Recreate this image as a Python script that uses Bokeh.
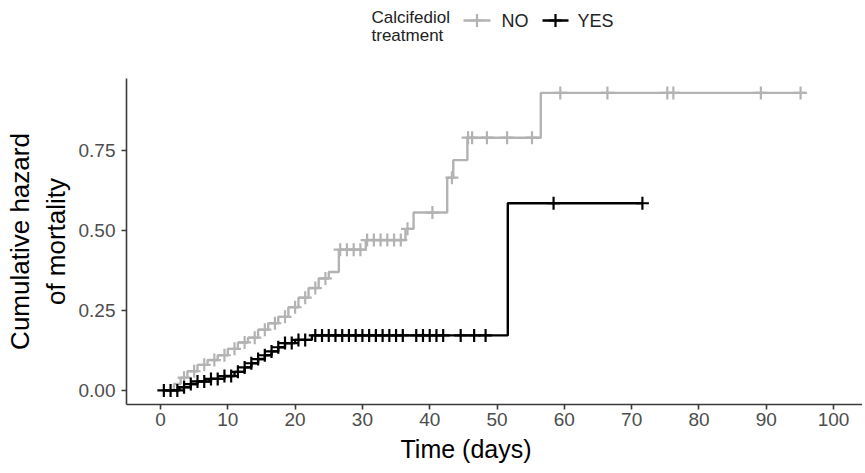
import numpy as np
from bokeh.plotting import figure
from bokeh.layouts import column
from bokeh.models import Range1d, FixedTicker, NumeralTickFormatter, Title
from bokeh.core.properties import value
from bokeh.embed import file_html
from bokeh.resources import INLINE

# ---------------- data ----------------
no_times = [0.3, 2.0, 3.0, 4.0, 5.5, 7.0, 8.5, 10.0, 11.5, 13.0, 14.5, 16.0, 17.5,
            19.0, 20.5, 22.0, 23.5, 25.0, 26.5, 30.5, 36.4, 37.6, 42.6, 43.5, 45.6, 56.5]
no_haz = [0.0, 0.02, 0.04, 0.06, 0.08, 0.095, 0.11, 0.13, 0.15, 0.165, 0.19, 0.21, 0.23,
          0.26, 0.29, 0.32, 0.35, 0.37, 0.44, 0.47, 0.505, 0.556, 0.665, 0.72, 0.79, 0.93]
no_end = 95.8
no_censor = [3.5, 5.0, 6.5, 8.0, 9.5, 11.0, 12.5, 14.0, 15.5, 17.0, 18.5, 20.0, 21.5,
             23.0, 24.5, 26.7, 27.7, 28.7, 29.7, 30.7, 31.7, 32.7, 33.7, 34.7, 35.7,
             36.7, 40.4, 43.3, 45.7, 46.3, 48.5, 51.5, 55.2, 59.4, 66.4, 75.3, 76.2,
             89.2, 95.1]

yes_times = [0.3, 2.8, 4.5, 5.5, 7.5, 9.5, 11.0, 12.5, 13.5, 14.5, 15.5, 16.5, 17.5,
             18.5, 20.0, 22.5, 51.6]
yes_haz = [0.0, 0.010, 0.020, 0.028, 0.036, 0.045, 0.058, 0.072, 0.085, 0.098, 0.110,
           0.122, 0.135, 0.148, 0.158, 0.172, 0.585]
yes_end = 71.6
yes_censor = [0.5, 1.5, 2.5, 3.5, 4.5, 5.5, 6.5, 7.5, 8.5, 9.5, 10.5, 11.5, 12.5, 13.5,
              14.5, 15.5, 16.5, 17.5, 18.5, 19.5, 20.5, 21.5, 23.0, 24.0, 25.0, 26.0,
              27.0, 28.0, 29.0, 30.0, 31.0, 32.0, 33.0, 34.0, 35.0, 36.0, 38.0, 39.0,
              40.0, 41.0, 42.0, 44.6, 46.6, 48.3, 58.4, 71.6]

x_ticks = [0, 10, 20, 30, 40, 50, 60, 70, 80, 90, 100]
y_ticks = [0.0, 0.25, 0.50, 0.75]

groups = ["NO", "YES"]
legend_title = ["Calcifediol", "treatment"]
colors = {"NO": "#B3B3B3", "YES": "#000000"}

FONT = "Liberation Sans"
W = 862
LEFT = 126
LEG_H = 60

# ---------------- main plot ----------------
p = figure(width=W, height=470 - LEG_H, output_backend="svg", toolbar_location=None,
           x_range=Range1d(-5.05, 104.3), y_range=Range1d(-0.044, 0.975),
           min_border_left=LEFT, min_border_right=0, min_border_top=78 - LEG_H,
           min_border_bottom=66)
p.outline_line_color = None
p.grid.visible = False
p.background_fill_color = "white"


def step_value(times, haz, t):
    idx = np.searchsorted(np.asarray(times), t, side="right") - 1
    idx = max(idx, 0)
    return haz[idx]


for g, times, haz, end, cens in [("NO", no_times, no_haz, no_end, no_censor),
                                 ("YES", yes_times, yes_haz, yes_end, yes_censor)]:
    xs = list(times) + [end]
    ys = list(haz) + [haz[-1]]
    p.step(xs, ys, mode="after", line_color=colors[g], line_width=2.4)
    cy = [step_value(times, haz, t) for t in cens]
    p.scatter(cens, cy, marker="cross", size=13, line_color=colors[g], line_width=2.2)

for ax in (p.xaxis[0], p.yaxis[0]):
    ax.axis_line_color = "#3A3A3A"
    ax.axis_line_width = 1.6
    ax.major_tick_line_color = "#3A3A3A"
    ax.major_tick_line_width = 1.6
    ax.major_tick_out = 5
    ax.major_tick_in = 0
    ax.minor_tick_line_color = None
    ax.major_label_text_font = FONT
    ax.major_label_text_font_size = "19px"
    ax.major_label_text_color = "#4D4D4D"
    ax.axis_label_text_font = FONT
    ax.axis_label_text_font_style = "normal"
    ax.axis_label_text_color = "black"

p.xaxis.major_label_standoff = 3
p.yaxis.major_label_standoff = 6
p.xaxis.ticker = FixedTicker(ticks=x_ticks)
p.yaxis.ticker = FixedTicker(ticks=y_ticks)
p.yaxis.formatter = NumeralTickFormatter(format="0.00")

# x-axis title (placed as a below-panel title so it can sit where the reference has it)
p.add_layout(Title(text="Time (days)", align="left", offset=274,
                   text_font=FONT, text_font_size="25px", text_font_style="normal",
                   text_color="black", standoff=8), "below")

p.yaxis.axis_label = "Cumulative hazard\nof mortality"
p.yaxis.axis_label_text_font_size = "26px"
p.yaxis.axis_label_standoff = 5

# ---------------- legend strip (pixel coordinates) ----------------
lg = figure(width=W, height=LEG_H, output_backend="svg", toolbar_location=None,
            x_range=Range1d(LEFT, W), y_range=Range1d(LEG_H, 0),
            min_border_left=LEFT, min_border_right=0, min_border_top=0,
            min_border_bottom=0)
lg.axis.visible = False
lg.grid.visible = False
lg.outline_line_color = None

lg.text(x=[371, 371], y=[17, 35], text=legend_title, text_font=value(FONT),
        text_font_size="17px", text_color="#222222", text_align="left",
        text_baseline="middle")

key_x0 = [463, 542]
key_x1 = [490, 568]
label_x = [501, 577]
for g, a, b, lx in zip(groups, key_x0, key_x1, label_x):
    lg.line([a, b], [20, 20], line_color=colors[g], line_width=2.4)
    lg.scatter([(a + b) / 2], [20], marker="cross", size=13, line_color=colors[g],
               line_width=2.2)
    lg.text(x=[lx], y=[20], text=[g], text_font=value(FONT), text_font_size="18px",
            text_color="#222222", text_align="left", text_baseline="middle")

layout = column(lg, p, spacing=0)
open("out.html", "w").write(file_html(layout, INLINE))
